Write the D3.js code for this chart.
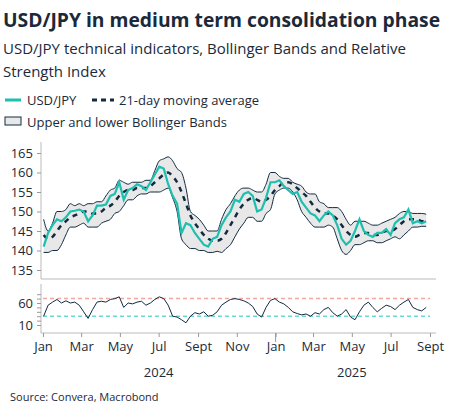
<!DOCTYPE html>
<html><head><meta charset="utf-8">
<script src="https://cdn.jsdelivr.net/npm/d3@7"></script>
<style>
body{margin:0;background:#fff;font-family:"Open Sans",sans-serif;}
</style></head><body><svg id="c" width="453" height="417"></svg>
<script>
// weekly values, starting 2 Jan 2024
const price = [141,144.5,146.5,148,147.5,148.5,150,150.2,150.5,150,147.5,149,151.5,151.5,151.8,154,154.5,157.5,153,155.5,156,157,156.5,155.5,157.5,159.5,161.5,161,157,154,152,144.5,147,146.5,144.5,143,141.5,141,143,143.5,146.5,148.5,150,153,152.5,154.5,155,154,150,150.5,153.5,157.5,157.5,158,156.5,155.5,154.5,155,152.5,151,149.5,149,147.5,149,150,149,146.5,143,141.5,142.5,145,148,145,144,143.5,144.5,144.5,145.5,144,147,148,148.5,150.5,147,147.5,147,147.5];
const ma = [144,143,143.5,145,146.5,147.5,148.5,149,149.5,150,150,149.5,149.5,150,151,151.5,152.5,154,155,155.5,155.5,156,156,156,156.5,157.5,158.5,159.5,160,159,157.5,155,152,149,147,145.5,144,143,142.5,142.5,143,144.5,146.5,148.5,150.5,152,153,153.5,153,152.5,153,154,155.5,156.5,157.5,157.5,157,156,155,154,152.5,151,150,149.5,149.5,149,148,146.5,145,144,143.5,144,144.5,144.5,144,144,144.5,145,145,145.5,146.5,147.5,148,148,148,147.5,147.5];
const upper = [148,145,147,150,150,150.5,152,151.5,152,151.5,152,152,152.5,152.5,154,155.5,156,158,157.5,157,157.5,157.5,157.5,158,158,160.5,163,163.5,164,163,161,160,156,150,149,148,146.5,145,145,145,148,150.5,152,154,155.5,156,156,155.5,155,155,157,160,160,159,158.5,158.5,157.5,157,156.5,155,154.5,154.5,152.5,152,151,151,151,150,148,146.5,147.5,147.5,147.5,147,146.5,146.5,147,147.5,148,148.5,149.5,150,150,149.5,149.5,149.5,149.3];
const lower = [139.5,139.5,140,140,141.5,144,146,146,146.5,147,146,146,146,147,147.5,148,149.5,150,151.5,153,153,154,154.5,154.5,155,155,155,155.5,156,153.5,150,143,141.5,140.5,140.5,140,140,139.5,139.5,139.8,139.5,140.5,141.5,143.5,145.5,147,148.5,148.5,147.5,147.5,149.5,150.5,154.5,155.5,156,156,155,153,150,148.5,147,146,146,146,146.5,146,143,140,139,140,141.5,141.5,142,142.5,142.5,142,142,142.5,143,143.5,143,144,145,146,146,146.2,146.2];
const rsi = [30,55,62,68,60,65,60,62,55,40,25,45,62,64,62,68,70,74,50,60,58,62,64,55,60,68,74,70,55,30,28,22,15,30,38,35,40,30,32,40,55,62,68,70,68,65,60,52,35,28,50,66,70,62,58,50,40,36,33,35,30,38,35,45,50,38,30,35,45,28,22,40,55,62,50,40,48,55,52,45,55,62,68,50,45,42,50];
const priceTicks = [135,140,145,150,155,160,165];
const rsiTicks = [10,60];
const rsiLevels = [{v:70,c:"#f4a7a0"},{v:30,c:"#6ad9cf"}];
const monthLabels = ["Jan","Mar","May","Jul","Sept","Nov","Jan","Mar","May","Jul","Sept"];
const yearLabels = [{y:"2024",d:"2024-07-01"},{y:"2025",d:"2025-05-01"}];

const start = new Date(2024,0,2);
const dateAt = i => d3.timeDay.offset(start, i*7);
const rows = d3.range(d3.min([price.length,ma.length,upper.length,lower.length])).map(i => ({
  d: dateAt(i), p: price[i], m: ma[i], u: upper[i], l: lower[i]}));
const rsiRows = rsi.map((v,i) => ({d: dateAt(i), v}));

const svg = d3.select("#c");
const teal = "#1ebfae", navy = "#132a43";

svg.append("text").attr("x",3).attr("y",27).attr("font-size",19.3).attr("font-weight","bold")
  .attr("fill","#1a2a3a").text("USD/JPY in medium term consolidation phase");
svg.append("text").attr("x",3).attr("y",54).attr("font-size",15).attr("fill","#1a2a3a")
  .text("USD/JPY technical indicators, Bollinger Bands and Relative");
svg.append("text").attr("x",3).attr("y",77).attr("font-size",15).attr("fill","#1a2a3a")
  .text("Strength Index");

// legend
const lg = svg.append("g").attr("font-size",13).attr("fill","#1a2a3a");
lg.append("line").attr("x1",5).attr("x2",21).attr("y1",100).attr("y2",100).attr("stroke",teal).attr("stroke-width",3);
lg.append("text").attr("x",27).attr("y",105).text("USD/JPY");
lg.append("line").attr("x1",92).attr("x2",114).attr("y1",100).attr("y2",100).attr("stroke",navy).attr("stroke-width",3).attr("stroke-dasharray","5,4");
lg.append("text").attr("x",119).attr("y",105).text("21-day moving average");
lg.append("rect").attr("x",5).attr("y",117).attr("width",16).attr("height",8).attr("fill","#e8e8e8").attr("stroke",navy);
lg.append("text").attr("x",27).attr("y",127).text("Upper and lower Bollinger Bands");

const x = d3.scaleTime().domain([new Date(2024,0,1), new Date(2025,8,1)]).range([43,430]);
const y = d3.scaleLinear().domain([135,165]).range([270,153]);
const yr = d3.scaleLinear().domain([10,60]).range([325,303]);

// axes frame
svg.append("line").attr("x1",41).attr("x2",41).attr("y1",142).attr("y2",279).attr("stroke","#bbb");
svg.append("line").attr("x1",41).attr("x2",436).attr("y1",279).attr("y2",279).attr("stroke","#bbb");
svg.append("line").attr("x1",41).attr("x2",41).attr("y1",284).attr("y2",333).attr("stroke","#bbb");
svg.append("line").attr("x1",41).attr("x2",436).attr("y1",333).attr("y2",333).attr("stroke","#bbb");

const tickFmt = g => { g.select(".domain").remove(); g.selectAll("line").attr("stroke","#999");
  g.selectAll("text").attr("font-size",13).attr("fill","#1a2a3a").attr("font-family","Open Sans"); };
svg.append("g").attr("transform","translate(41,0)")
  .call(d3.axisLeft(y).tickValues(priceTicks).tickSize(4).tickPadding(4)).call(tickFmt);
svg.append("g").attr("transform","translate(41,0)")
  .call(d3.axisLeft(yr).tickValues(rsiTicks).tickSize(4).tickPadding(4)).call(tickFmt);
svg.append("g").attr("transform","translate(41,0)")
  .call(d3.axisLeft(yr).tickValues([20,30,40,50,70,80]).tickSize(4).tickFormat("")).call(tickFmt);

const months = d3.timeMonth.every(2).range(new Date(2024,0,1), new Date(2025,8,2));
svg.append("g").attr("transform","translate(0,333)")
  .call(d3.axisBottom(x).tickValues(months).tickSize(4).tickPadding(5).tickFormat((d,i) => monthLabels[i]))
  .call(tickFmt);
svg.append("line").attr("x1",x(new Date(2025,0,1))).attr("x2",x(new Date(2025,0,1))).attr("y1",333).attr("y2",342).attr("stroke","#999");
svg.selectAll(".yr").data(yearLabels).join("text").attr("x",d => x(new Date(d.d))).attr("y",377)
  .attr("text-anchor","middle").attr("font-size",13).attr("fill","#1a2a3a").text(d => d.y);

// bands
svg.append("path").datum(rows).attr("fill","#e8e8e8")
  .attr("d", d3.area().x(d => x(d.d)).y0(d => y(d.l)).y1(d => y(d.u)).curve(d3.curveMonotoneX));
["u","l"].forEach(k => svg.append("path").datum(rows).attr("fill","none").attr("stroke",navy).attr("stroke-width",1)
  .attr("d", d3.line().x(d => x(d.d)).y(d => y(d[k])).curve(d3.curveMonotoneX)));
svg.append("path").datum(rows).attr("fill","none").attr("stroke",navy).attr("stroke-width",2.5).attr("stroke-dasharray","5,5")
  .attr("d", d3.line().x(d => x(d.d)).y(d => y(d.m)).curve(d3.curveMonotoneX));
svg.append("path").datum(rows).attr("fill","none").attr("stroke",teal).attr("stroke-width",2.2)
  .attr("d", d3.line().x(d => x(d.d)).y(d => y(d.p)));

// RSI
rsiLevels.forEach(l => svg.append("line").attr("x1",43).attr("x2",430).attr("y1",yr(l.v)).attr("y2",yr(l.v))
  .attr("stroke",l.c).attr("stroke-width",1.5).attr("stroke-dasharray","4,3"));
svg.append("path").datum(rsiRows).attr("fill","none").attr("stroke",navy).attr("stroke-width",1)
  .attr("d", d3.line().x(d => x(d.d)).y(d => yr(d.v)));

svg.append("text").attr("x",10).attr("y",401).attr("font-size",11).attr("fill","#1a2a3a").text("Source: Convera, Macrobond");
</script></body></html>
